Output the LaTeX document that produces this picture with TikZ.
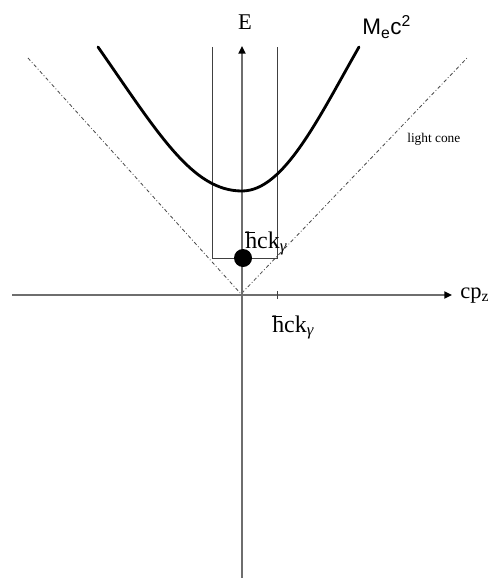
\documentclass[tikz,border=0pt]{standalone}
\usepackage{fontspec}
\setmainfont{Liberation Serif}
\newfontfamily\labelsans{Liberation Sans}
\usetikzlibrary{
	arrows.meta,
	positioning
}
\newcommand{\hbarck}{\leavevmode\rlap{\rule[0.64em]{0.4em}{0.05em}}hck\textsubscript{\textit{γ}}}

\begin{document}
\begin{tikzpicture}[
				x=0.025cm, y=-0.025cm,
				axis/.style={
					draw=black!57, line width=1.4pt,
					-{Triangle[length=5.5pt, width=5pt, color=black]}
				},
				window/.style={draw=black!75, line width=0.7pt},
				cone/.style={
					draw=black!70, line width=0.6pt,
					dash pattern=on 2.5pt off 1.6pt on 0.6pt off 1.6pt
				},
				mass/.style={draw=black, line width=2pt, line cap=round},
				dot/.style={circle, fill=black, minimum size=0.45cm, inner sep=0pt},
				axislabel/.style={font=\fontsize{16}{19}\selectfont, inner sep=0pt},
				energylabel/.style={font=\fontsize{17}{20}\selectfont, inner sep=0pt, anchor=base west},
				masslabel/.style={font=\labelsans\fontsize{16}{19}\selectfont, inner sep=0pt, anchor=base west},
				conelabel/.style={font=\fontsize{9.5}{11}\selectfont, inner sep=0pt, anchor=base west}
				]
				
				\useasboundingbox (0,0) rectangle (496,578);
				
				% axis points
				\coordinate (origin) at (242,295);
				\coordinate (xstart) at (12,295);
				\coordinate (xtip) at (452,295);
				\coordinate (ybottom) at (242,578);
				\coordinate (ytip) at (242,46);
				
				% light cone
				\coordinate (apex) at (241,294);
				\coordinate (coneleft) at (28,58);
				\coordinate (coneright) at (467,58);
				\draw[cone] (coneleft) -- (apex) -- (coneright);
				
				% window round the photon energy
				\coordinate (wintopleft) at (212,47);
				\coordinate (winbotleft) at (212,258);
				\coordinate (winbotright) at (277,258);
				\coordinate (wintopright) at (277,47);
				\draw[window] (wintopleft) -- (winbotleft) -- (winbotright) -- (wintopright);
				
				% axes
				\draw[axis] (xstart) -- (xtip);
				\draw[axis] (ybottom) -- (ytip);
				
				% tick on the momentum axis
				\coordinate (tickup) at (277,291);
				\coordinate (tickdown) at (277,299);
				\draw[window] (tickup) -- (tickdown);
				
				% mass shell
				\coordinate (massleft) at (98,47);
				\coordinate (massmin) at (242,191);
				\coordinate (massright) at (359,47);
				\draw[mass] (massleft) .. controls (158,133) and (192,191) .. (massmin)
					.. controls (284,191) and (319,117) .. (massright);
				
				% photon
				\node[dot] (photon) at (243,258) {};
				
				% labels
				\node[axislabel] (Elabel) at (245,22) {E};
				\node[axislabel, anchor=base west] (cplabel) at (460,298) {cp\textsubscript{z}};
				\node[energylabel] (photonE) at (245,248) {\hbarck};
				\node[energylabel] (photonP) at (272,332) {\hbarck};
				\node[masslabel] (Mlabel) at (362,35) {M\textsubscript{e}c\textsuperscript{2}};
				\node[conelabel] (conelabel) at (407,142) {light cone};
			\end{tikzpicture}
\end{document}
